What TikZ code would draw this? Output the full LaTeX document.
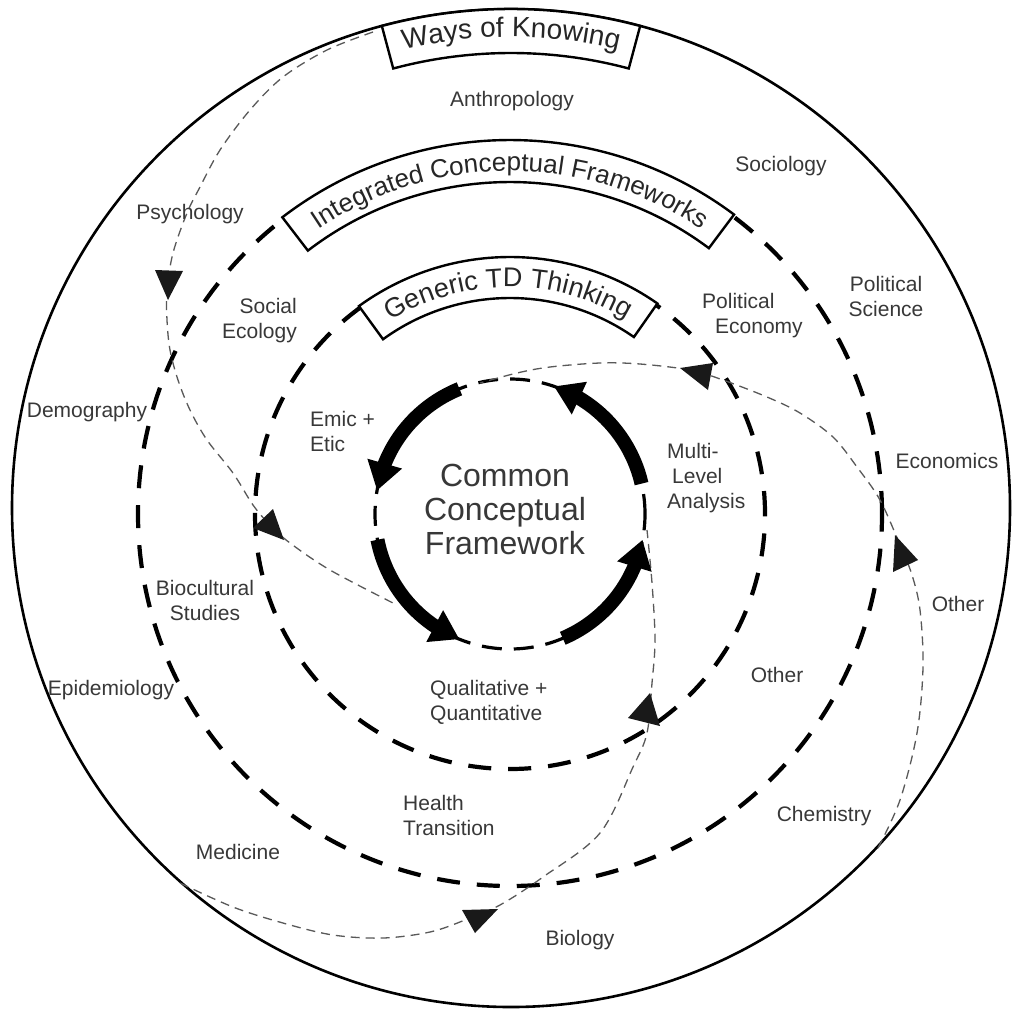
\documentclass[tikz,border=0pt]{standalone}
\usepackage{fontspec}
\setmainfont{Liberation Sans}
\usetikzlibrary{arrows.meta,bending,decorations.text}
\newcommand\lblfont{\fontsize{21}{25}\selectfont}
\newcommand\bigfont{\fontsize{32}{34}\selectfont}
\begin{document}
\begin{tikzpicture}[x=1pt,y=1pt,
  lbl/.style={font=\lblfont, text=black!78, inner sep=0pt},
  ringdash/.style={line width=4.2pt, dash pattern=on 23pt off 17pt},
  coredash/.style={line width=3.2pt, dash pattern=on 20pt off 12pt},
  flowline/.style={draw=black!65, line width=1.3pt, dash pattern=on 9pt off 6pt},
  thickarrow/.style={line width=14pt, -{Triangle[width=34pt,length=28pt]}},
  banner/.style={draw=black, fill=white, line width=2.4pt, line join=miter},
  tri/.style={fill=black!90}]
\fill[white] (0,0) rectangle (1016,-1010);
\path[use as bounding box] (0,0) rectangle (1016,-1010);
\coordinate (O) at (511,-508);
\coordinate (C) at (510,-514);

% outer circle
\draw[line width=2.6pt] (O) circle[radius=499pt];
% dashed circles
\draw[ringdash] (C) circle[radius=372pt];
\draw[ringdash] (C) circle[radius=255pt];
\draw[coredash] (C) circle[radius=135pt];

% thin dashed flow paths
\draw[flowline] plot[smooth, tension=0.55] coordinates {(373,-32) (327,-50) (283,-77) (250,-110) (220,-150) (200,-187) (187,-213) (173,-253) (167,-290) (167,-320) (170,-350) (178,-380) (190,-410) (207,-440) (233,-473) (253,-505) (270,-525) (290,-543) (330,-570) (393,-603)};
\draw[flowline] plot[smooth, tension=0.55] coordinates {(180,-883) (233,-907) (283,-923) (333,-935) (383,-938) (430,-932) (465,-920) (500,-905) (543,-877) (600,-833) (633,-767) (647,-733) (652,-683) (655,-640) (652,-583) (647,-530)};
\draw[flowline] plot[smooth, tension=0.55] coordinates {(878,-848) (900,-800) (917,-733) (923,-667) (920,-610) (912,-575) (900,-545) (880,-500) (857,-467) (833,-437) (800,-413) (767,-397) (723,-380) (690,-370) (640,-364) (600,-363) (550,-367) (517,-373) (480,-383)};

% thick arrows of the core cycle
\draw[thickarrow] (C) ++(112:135pt) arc[start angle=112, end angle=170, radius=135pt];
\draw[thickarrow] (C) ++(191:135pt) arc[start angle=191, end angle=248, radius=135pt];
\draw[thickarrow] (C) ++(293:135pt) arc[start angle=293, end angle=349, radius=135pt];
\draw[thickarrow] (C) ++(13:135pt) arc[start angle=13, end angle=71, radius=135pt];

% banners
\draw[banner] (O) ++(105:499pt) arc[start angle=105, end angle=75, radius=499pt] -- ++(75:-44pt) arc[start angle=75, end angle=105, radius=455pt] -- cycle;
\draw[banner] (C) ++(127.5:374pt) arc[start angle=127.5, end angle=53.2, radius=374pt] -- ++(53.2:-42pt) arc[start angle=53.2, end angle=127.5, radius=332pt] -- cycle;
\draw[banner] (C) ++(126:257pt) arc[start angle=126, end angle=55, radius=257pt] -- ++(55:-41pt) arc[start angle=55, end angle=126, radius=216pt] -- cycle;

\path[decorate, decoration={text along path, text align=center, text color=black!85,
  text={|\fontsize{28}{28}\selectfont|Ways of Knowing}}]
  (O) ++(105:471pt) arc[start angle=105, end angle=75, radius=471pt];
\path[decorate, decoration={text along path, text align=center, text color=black!85,
  text={|\fontsize{26}{26}\selectfont|Integrated Conceptual Frameworks}}]
  (C) ++(127:343pt) arc[start angle=127, end angle=53, radius=343pt];
\path[decorate, decoration={text along path, text align=center, text color=black!85,
  text={|\fontsize{27}{27}\selectfont|Generic TD Thinking}}]
  (C) ++(126:227pt) arc[start angle=126, end angle=55, radius=227pt];

% arrowheads on flow paths
\fill[tri] (155,-270) -- (183,-271) -- (168,-300) -- cycle;
\fill[tri] (253,-528) -- (273,-509) -- (284,-540) -- cycle;
\fill[tri] (462,-910) -- (498,-909) -- (475,-933) -- cycle;
\fill[tri] (628,-718) -- (650,-693) -- (660,-726) -- cycle;
\fill[tri] (680,-368) -- (713,-363) -- (708,-390) -- cycle;
\fill[tri] (895,-535) -- (918,-560) -- (893,-572) -- cycle;

% labels
\node[lbl, font=\bigfont, align=center] (ccf) at (505,-509) {Common\\Conceptual\\Framework};
\node[lbl] (anth) at (512,-101) {Anthropology};
\node[lbl] (soc) at (781,-166) {Sociology};
\node[lbl] (psy) at (190,-214) {Psychology};
\node[lbl, align=center] (polsci) at (886,-296) {Political\\Science};
\node[lbl, align=left, anchor=west] (polec) at (702,-316) {Political\\\hspace*{13pt}Economy};
\node[lbl, align=right, anchor=east] (soceco) at (297,-321) {Social\\Ecology};
\node[lbl] (demo) at (87,-412) {Demography};
\node[lbl, align=left, anchor=west] (emic) at (310,-431) {Emic +\\Etic};
\node[lbl] (econ) at (947,-461) {Economics};
\node[lbl, align=left, anchor=west] (mla) at (667,-478) {Multi-\\\hspace*{5pt}Level\\Analysis};
\node[lbl] (other1) at (958,-604) {Other};
\node[lbl, align=center] (bio) at (205,-600) {Biocultural\\Studies};
\node[lbl] (epi) at (111,-690) {Epidemiology};
\node[lbl, align=left, anchor=west] (qq) at (430,-702) {Qualitative +\\Quantitative};
\node[lbl] (other2) at (777,-675) {Other};
\node[lbl, align=left, anchor=west] (ht) at (403,-815) {Health\\Transition};
\node[lbl] (chem) at (824,-816) {Chemistry};
\node[lbl] (med) at (238,-852) {Medicine};
\node[lbl] (biol) at (580,-940) {Biology};
\end{tikzpicture}
\end{document}
